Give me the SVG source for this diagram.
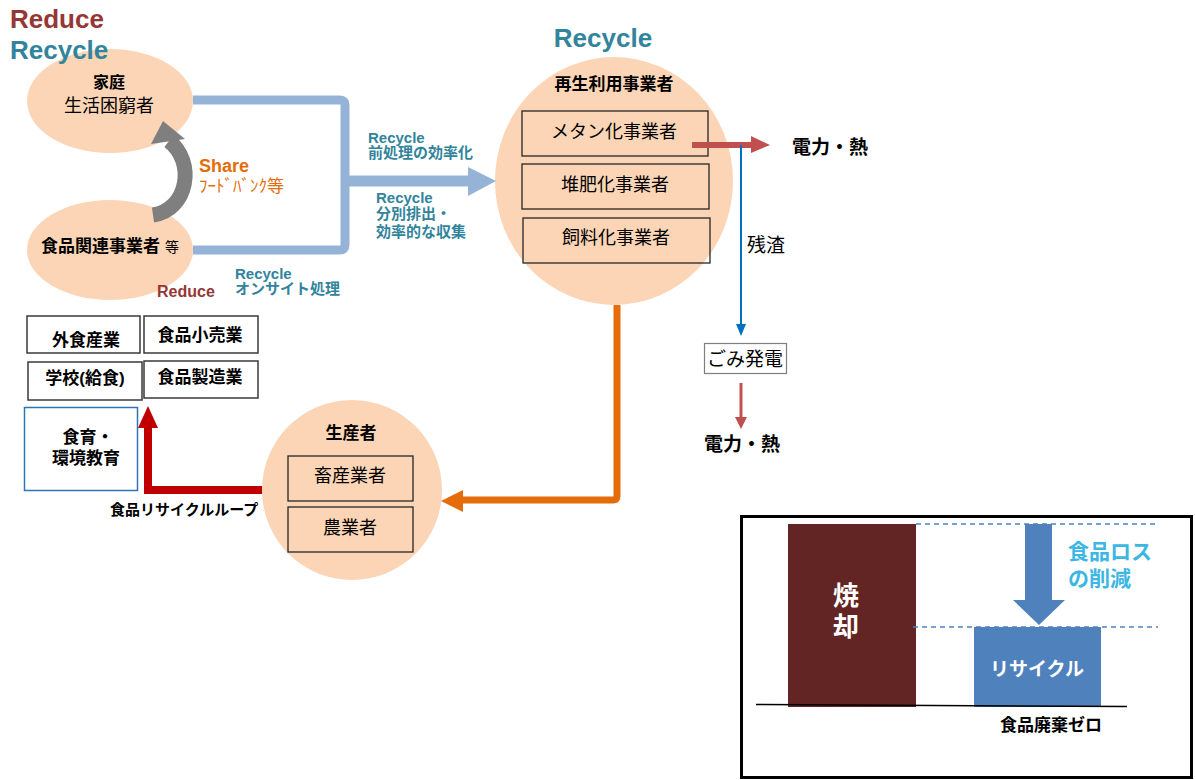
<svg xmlns="http://www.w3.org/2000/svg" width="1195" height="780" viewBox="0 0 1195 780">
<style>
text{font-family:"Liberation Sans","Noto Sans CJK JP",sans-serif;fill:#000}
.b{font-weight:bold}
.c{text-anchor:middle}
.teal{fill:#31849b;font-weight:bold}
.red{fill:#953735;font-weight:bold}
.org{fill:#e46c0a}
.wh{fill:#fff;font-weight:bold}
.cy{fill:#3cb7e4;font-weight:bold;font-size:21px}
.blob{fill:#fbd5b5}
.box{fill:none;stroke:#262626;stroke-width:1.3}
.lbox{fill:#fff;stroke:#3a3a3a;stroke-width:1.5}
.t18{font-size:18px}
.t17{font-size:17px}
.t15{font-size:15px}
</style>
<rect width="1195" height="780" fill="#fff"/>

<g id="home">
<ellipse cx="110" cy="101" rx="83" ry="52" class="blob"/>
<text x="109" y="88" class="b c" font-size="16">家庭</text>
<text x="109" y="112" class="c t18">生活困窮者</text>
</g>
<g id="food-business">
<ellipse cx="110" cy="250" rx="83" ry="50" class="blob"/>
<text x="41" y="252" class="b t17">食品関連事業者<tspan font-size="14" font-weight="normal" dx="5">等</tspan></text>
</g>

<g id="recycler">
<ellipse cx="614" cy="181" rx="119" ry="124" class="blob"/>
<text x="614" y="90" class="b c t17">再生利用事業者</text>
<rect x="522" y="111" width="186" height="45" class="box"/>
<text x="614" y="138" class="c t18">メタン化事業者</text>
<rect x="522" y="164" width="187" height="45" class="box"/>
<text x="615" y="191" class="c t18">堆肥化事業者</text>
<rect x="523" y="218" width="187" height="45" class="box"/>
<text x="616" y="244" class="c t18">飼料化事業者</text>
</g>

<g id="power-plant">
<rect x="704.5" y="343.5" width="82" height="30" fill="#fff" stroke="#7f7f7f" stroke-width="1.2"/>
<text x="745" y="366" class="c" font-size="19">ごみ発電</text>
</g>

<g id="producer">
<circle cx="352" cy="490" r="90" class="blob"/>
<text x="351" y="439" class="b c t17">生産者</text>
<rect x="288" y="456" width="125" height="45" class="box"/>
<text x="350" y="482" class="c t18">畜産業者</text>
<rect x="288" y="507" width="125" height="45" class="box"/>
<text x="350" y="534" class="c t18">農業者</text>
</g>

<g id="sectors">
<rect x="27" y="316" width="113" height="37" class="lbox"/>
<text x="86" y="346" class="b c t17">外食産業</text>
<rect x="144" y="316" width="114" height="37" class="lbox"/>
<text x="200" y="341" class="b c t17">食品小売業</text>
<rect x="28" y="362" width="114" height="38" class="lbox"/>
<text x="85" y="384" class="b c t17">学校(給食)</text>
<rect x="144" y="361" width="114" height="37" class="lbox"/>
<text x="200" y="383" class="b c t17">食品製造業</text>
</g>
<g id="education">
<rect x="24.5" y="407.5" width="113" height="83" fill="#fff" stroke="#2e75b6" stroke-width="1.5"/>
<text x="88" y="443" class="b c t17">食育・</text>
<text x="86" y="464" class="b c t17">環境教育</text>
</g>

<g id="chart">
<rect x="741.5" y="516.5" width="450" height="261" fill="#fff" stroke="#000" stroke-width="3"/>
<rect x="788" y="524" width="128" height="183" fill="#632523"/>
<text x="846" y="605" class="wh c" font-size="26">焼</text>
<text x="846" y="636" class="wh c" font-size="26">却</text>
<rect x="974" y="627" width="127" height="80" fill="#4f81bd"/>
<text x="1037" y="676" class="wh c" font-size="19">リサイクル</text>
<line x1="916" y1="524" x2="1158" y2="524" stroke="#4f81bd" stroke-width="1.3" stroke-dasharray="5,4"/>
<line x1="913" y1="627" x2="1158" y2="627" stroke="#4f81bd" stroke-width="1.3" stroke-dasharray="5,4"/>
<rect x="1025" y="524" width="27" height="77" fill="#4f81bd"/>
<polygon points="1013,600 1065,600 1039,625" fill="#4f81bd"/>
<line x1="756" y1="704.5" x2="1127" y2="706.5" stroke="#000" stroke-width="1.5"/>
<text x="1068" y="559" class="cy">食品ロス</text>
<text x="1068" y="586" class="cy">の削減</text>
<text x="1000" y="731" class="b t17">食品廃棄ゼロ</text>
</g>

<g id="connectors">
<path d="M193 100 H340 Q345 100 345 105 V245 Q345 250 340 250 H193" fill="none" stroke="#95b3d7" stroke-width="9"/>
<rect x="345" y="175.5" width="124" height="11" fill="#95b3d7"/>
<polygon points="468,167 496,181 468,196" fill="#95b3d7"/>
<path d="M153 215 C188 210 196 162 169 141" fill="none" stroke="#7f7f7f" stroke-width="15"/>
<polygon points="163,121 151,144 185,139" fill="#7f7f7f"/>
<path d="M617 305 V496 Q617 500 613 500 H460" fill="none" stroke="#e46c0a" stroke-width="7"/>
<polygon points="441,501 463,490 463,512" fill="#e46c0a"/>
<path d="M262 490 H148 V426" fill="none" stroke="#c00000" stroke-width="8"/>
<polygon points="148,406 138,428 158,428" fill="#c00000"/>
<line x1="692" y1="145" x2="752" y2="145" stroke="#c0504d" stroke-width="6"/>
<polygon points="751,136 770,145 751,153" fill="#c0504d"/>
<line x1="741" y1="145" x2="741" y2="327" stroke="#0070c0" stroke-width="2"/>
<polygon points="736,324 746,324 741,336" fill="#0070c0"/>
<line x1="741" y1="383" x2="741" y2="419" stroke="#c0504d" stroke-width="3"/>
<polygon points="735,417 747,417 741,429" fill="#c0504d"/>
</g>

<g id="labels">
<text x="10" y="28" class="red" font-size="26">Reduce</text>
<text x="10" y="59" class="teal" font-size="26">Recycle</text>
<text x="603" y="47" class="teal c" font-size="26">Recycle</text>
<text x="368" y="143" class="teal t15">Recycle</text>
<text x="368" y="158" class="teal t15">前処理の効率化</text>
<text x="376" y="203" class="teal t15">Recycle</text>
<text x="376" y="219" class="teal t15">分別排出・</text>
<text x="376" y="237" class="teal t15">効率的な収集</text>
<text x="235" y="279" class="teal t15">Recycle</text>
<text x="235" y="294" class="teal t15">オンサイト処理</text>
<text x="157" y="297" class="red" font-size="16">Reduce</text>
<text x="199" y="172" class="org b t18">Share</text>
<text x="199" y="192" class="org t17">ﾌｰﾄﾞﾊﾞﾝｸ等</text>
<text x="747" y="252" font-size="19">残渣</text>
<text x="792" y="154" class="b" font-size="19">電力・熱</text>
<text x="704" y="451" class="b" font-size="19">電力・熱</text>
<text x="110" y="515" class="b t15">食品リサイクルループ</text>
</g>
</svg>
